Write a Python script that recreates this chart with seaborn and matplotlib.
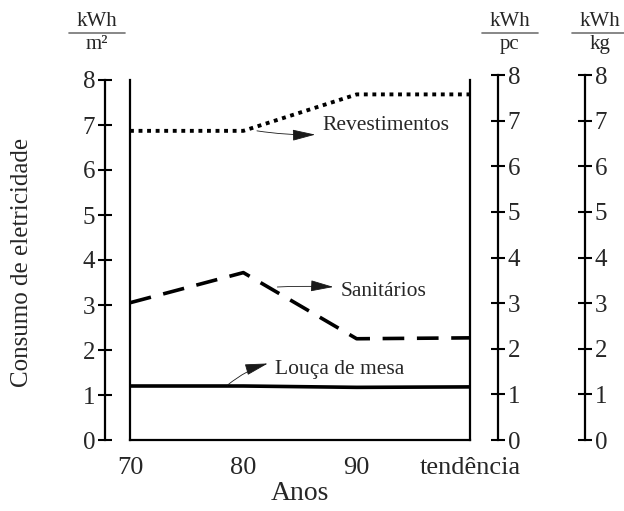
import matplotlib
matplotlib.use('Agg')
import matplotlib.pyplot as plt
import seaborn as sns
import pandas as pd

# data
anos = ["70", "80", "90", "tendência"]
revestimentos = [6.87, 6.87, 7.68, 7.68]
sanitarios = [3.05, 3.72, 2.25, 2.27]
louca = [1.2, 1.2, 1.17, 1.18]
y_ticks = [0, 1, 2, 3, 4, 5, 6, 7, 8]

sns.set_theme(style="white")
plt.rcParams['font.family'] = ['Liberation Serif', 'DejaVu Serif']

W, H = 624, 511
fig = plt.figure(figsize=(W / 100, H / 100), dpi=100)

# box: x 130..470 px, y 440..80 px
pos = [130 / W, (H - 440) / H, 340 / W, 360 / H]
ax = fig.add_axes(pos)

df = pd.DataFrame({
    "x": list(range(len(anos))) * 3,
    "valor": revestimentos + sanitarios + louca,
    "serie": ["Revestimentos"] * 4 + ["Sanitários"] * 4 + ["Louça de mesa"] * 4,
})

styles = {"Revestimentos": (0, (1, 1.2)), "Sanitários": (0, (6, 3.5)), "Louça de mesa": "-"}
for nome, sub in df.groupby("serie", sort=False):
    sns.lineplot(data=sub, x="x", y="valor", ax=ax, color="black",
                 linewidth=2.8 if nome == "Revestimentos" else 2.6,
                 linestyle=styles[nome], legend=False)

ax.set_xlim(0, 3)
ax.set_ylim(0, 8)
ax.set_xticks(range(len(anos)))
ax.set_xticklabels(anos, fontsize=19)
ax.set_yticks([])
ax.set_xlabel("Anos", fontsize=20, labelpad=2)
ax.set_ylabel("")
ax.spines['top'].set_visible(False)
for s in ['left', 'right', 'bottom']:
    ax.spines[s].set_color("black")
    ax.spines[s].set_linewidth(1.6)
ax.tick_params(axis='x', direction='inout', length=10, width=1.5, color='black', pad=7)
ax.patch.set_alpha(0)

# left scale (kWh/m2)
axl = fig.add_axes(pos)
axl.patch.set_alpha(0)
for s in ['top', 'right', 'bottom']:
    axl.spines[s].set_visible(False)
axl.spines['left'].set_position(('axes', -25 / 340))
axl.spines['left'].set_linewidth(1.6)
axl.spines['left'].set_color('black')
axl.set_ylim(0, 8)
axl.set_xticks([])
axl.set_yticks(y_ticks)
axl.tick_params(axis='y', direction='inout', length=10, width=1.5, color='black',
                labelsize=18, pad=2, left=True, labelleft=True)

# right scales (kWh/pc, kWh/kg), slightly taller
pos_r = [130 / W, (H - 440) / H, 340 / W, 365 / H]
for xpos in [(498 - 130) / 340, (585 - 130) / 340]:
    axr = fig.add_axes(pos_r)
    axr.patch.set_alpha(0)
    for s in ['top', 'left', 'bottom']:
        axr.spines[s].set_visible(False)
    axr.spines['right'].set_position(('axes', xpos))
    axr.spines['right'].set_linewidth(1.6)
    axr.spines['right'].set_color('black')
    axr.set_ylim(0, 8)
    axr.set_xticks([])
    axr.set_yticks(y_ticks)
    axr.yaxis.tick_right()
    axr.tick_params(axis='y', direction='inout', length=10, width=1.5, color='black',
                    labelsize=18, pad=2, right=True, labelright=True, left=False, labelleft=False)

fig.text(22 / W, 1 - 262 / H, "Consumo de eletricidade", rotation=90,
         ha='center', va='center', fontsize=18)

# unit labels
for cx, top, bot in [(97, "kWh", "m²"), (510, "kWh", "pc"), (600, "kWh", "kg")]:
    fig.text(cx / W, 1 - 31 / H, top, ha='center', va='bottom', fontsize=15)
    fig.text(cx / W, 1 - 35 / H, bot, ha='center', va='top', fontsize=15)
    fig.add_artist(plt.Line2D([(cx - 28) / W, (cx + 28) / W], [1 - 33 / H, 1 - 33 / H],
                              color='0.45', linewidth=1.2, transform=fig.transFigure))

# annotations with thin arrows, head pointing at the text
arrow = dict(arrowstyle="<|-,head_length=0.9,head_width=0.22", color="0.1", lw=0.6,
             connectionstyle="arc3,rad=-0.1", mutation_scale=16, shrinkA=3, shrinkB=0)
ax.annotate("Revestimentos", xy=(1.12, 6.87), xytext=(1.70, 7.0),
            fontsize=15.5, va='center', arrowprops=arrow)
ax.annotate("Sanitários", xy=(1.30, 3.4), xytext=(1.86, 3.29),
            fontsize=15.5, va='center', arrowprops=dict(arrow, connectionstyle="arc3,rad=0.05"))
ax.annotate("Louça de mesa", xy=(0.86, 1.22), xytext=(1.28, 1.56),
            fontsize=15.5, va='center', arrowprops=dict(arrow, connectionstyle="arc3,rad=0.3"))

fig.savefig("out.png", dpi=100)
